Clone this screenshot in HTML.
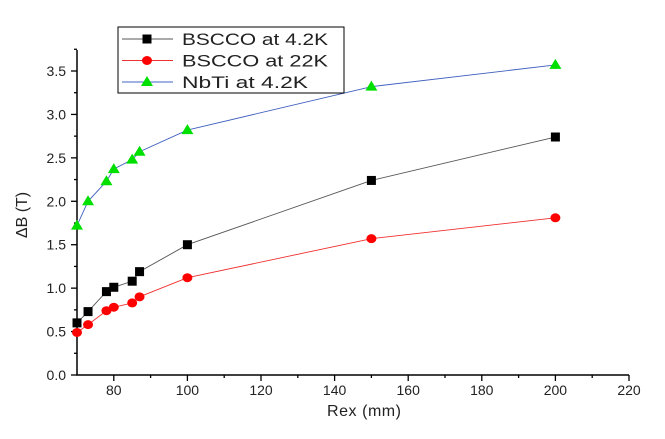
<!DOCTYPE html>
<html><head><meta charset="utf-8"><style>
body{margin:0;background:#fff}
svg text{font-family:"Liberation Sans",sans-serif;fill:#222}
</style></head><body>
<svg id="c" width="665" height="434" xmlns="http://www.w3.org/2000/svg"></svg>
<script>
const xs=[70,73,78,80,85,87,100,150,200];
const bscco42=[0.6,0.73,0.96,1.01,1.08,1.19,1.5,2.24,2.74];
const bscco22=[0.49,0.58,0.74,0.78,0.83,0.9,1.12,1.57,1.81];
const nbti=[1.72,2.0,2.23,2.37,2.48,2.57,2.82,3.32,3.57];
const xTicks=[80,100,120,140,160,180,200,220];
const yTicks=[0.0,0.5,1.0,1.5,2.0,2.5,3.0,3.5];
const svg=document.getElementById('c');const NS='http://www.w3.org/2000/svg';
const X=v=>77+(v-70)*(629-77)/150;
const Y=v=>375-v*(375-71)/3.5;
function mk(t,a,p){const e=document.createElementNS(NS,t);for(const k in a)e.setAttribute(k,a[k]);(p||svg).appendChild(e);return e;}
let ax=mk('path',{d:`M77,50 V375 H629`,stroke:'#000','stroke-width':1.5,fill:'none'});


for(let v=80;v<=220;v+=10){const maj=v%20==0;mk('line',{x1:X(v),x2:X(v),y1:375,y2:375+(maj?6:3),stroke:'#000','stroke-width':1.3});}
xTicks.forEach(v=>{const t=mk('text',{x:X(v),y:395,'text-anchor':'middle','font-size':14});t.textContent=v;

});
for(let v=0;v<=3.75;v+=0.25){const maj=Math.abs(v*2-Math.round(v*2))<1e-6;mk('line',{x1:77,x2:77-(maj?6:3),y1:Y(v),y2:Y(v),stroke:'#000','stroke-width':1.3});}
yTicks.forEach(v=>{const t=mk('text',{x:66,y:Y(v)+5,'text-anchor':'end','font-size':14});t.textContent=v.toFixed(1);

});
let xl=mk('text',{x:364,y:416,'text-anchor':'middle','font-size':16,textLength:74});xl.textContent='Rex (mm)';


let yl=mk('text',{x:0,y:0,'text-anchor':'middle','font-size':16,transform:'translate(27,215) rotate(-90)'});yl.textContent='ΔB (T)';


function marker(type,x,y,g){
 if(type=='sq')return mk('rect',{x:x-4.5,y:y-4.5,width:9,height:9,fill:'#000'},g);
 if(type=='ci')return mk('ellipse',{cx:x,cy:y,rx:5,ry:4.5,fill:'#f00'},g);
 return mk('polygon',{points:`${x},${y-6} ${x-6},${y+4} ${x+6},${y+4}`,fill:'#00e000'},g);}
function series(vals,col,type,name){
 const g=mk('g',{});
 
 
 mk('polyline',{points:xs.map((x,i)=>X(x)+','+Y(vals[i])).join(' '),fill:'none',stroke:col,'stroke-width':0.9},g);
 xs.forEach((x,i)=>{const m=marker(type,X(x),Y(vals[i]),g);
 
 });}
series(nbti,'#4060c0','tr','nbti-series');
series(bscco42,'#555','sq','bscco-4k-series');
series(bscco22,'#f03030','ci','bscco-22k-series');
const lg=mk('g',{});


mk('rect',{x:118,y:27,width:226,height:66,fill:'#fff',stroke:'#000','stroke-width':1},lg);
[['BSCCO at 4.2K','#555','sq',146],['BSCCO at 22K','#f03030','ci',146],['NbTi at 4.2K','#4060c0','tr',126]].forEach((e,i)=>{
 const y=39+i*21.5;mk('line',{x1:122,x2:173,y1:y,y2:y,stroke:e[1],'stroke-width':0.9},lg);
 marker(e[2],147,y,lg);
 const t=mk('text',{x:182,y:y+6,'font-size':17,textLength:e[3],lengthAdjust:'spacingAndGlyphs'},lg);t.textContent=e[0];
 
 });
</script>
</body></html>
